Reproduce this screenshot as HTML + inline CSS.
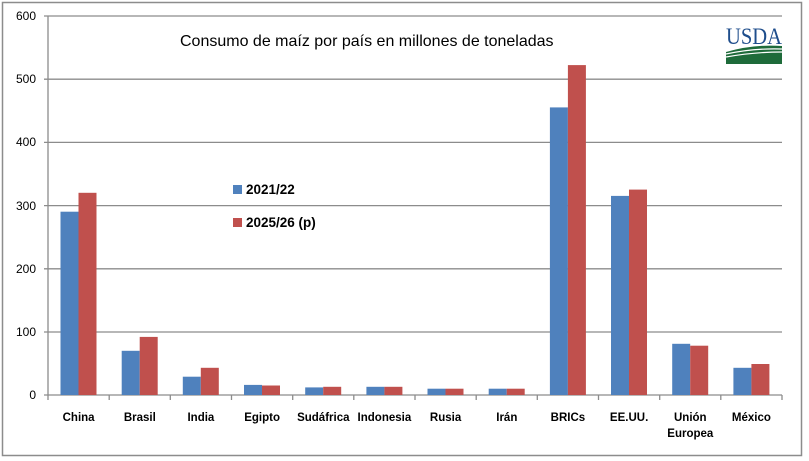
<!DOCTYPE html>
<html><head><meta charset="utf-8"><style>
html,body{margin:0;padding:0;background:#fff;}
svg{display:block;font-family:"Liberation Sans",Arial,sans-serif;}
</style></head><body>
<svg width="809" height="461" xmlns="http://www.w3.org/2000/svg">
<rect x="2.5" y="2.5" width="799" height="453" fill="#fff" stroke="#8c8c8c" stroke-width="1.5"/>
<g stroke="#8c8c8c" stroke-width="1.3">
<line x1="44" y1="16" x2="782" y2="16"/>
<line x1="44" y1="79.2" x2="782" y2="79.2"/>
<line x1="44" y1="142.4" x2="782" y2="142.4"/>
<line x1="44" y1="205.6" x2="782" y2="205.6"/>
<line x1="44" y1="268.8" x2="782" y2="268.8"/>
<line x1="44" y1="332" x2="782" y2="332"/>
<line x1="48" y1="16" x2="48" y2="400"/>
<line x1="44" y1="395" x2="782" y2="395"/>
<line x1="109.2" y1="395" x2="109.2" y2="400"/><line x1="170.3" y1="395" x2="170.3" y2="400"/>
<line x1="231.5" y1="395" x2="231.5" y2="400"/><line x1="292.7" y1="395" x2="292.7" y2="400"/>
<line x1="353.8" y1="395" x2="353.8" y2="400"/><line x1="415" y1="395" x2="415" y2="400"/>
<line x1="476.2" y1="395" x2="476.2" y2="400"/><line x1="537.3" y1="395" x2="537.3" y2="400"/>
<line x1="598.5" y1="395" x2="598.5" y2="400"/><line x1="659.7" y1="395" x2="659.7" y2="400"/>
<line x1="720.8" y1="395" x2="720.8" y2="400"/><line x1="782" y1="395" x2="782" y2="400"/>
</g>
<g font-size="12" fill="#000" text-anchor="end">
<text x="36" y="20">600</text><text x="36" y="83">500</text><text x="36" y="146">400</text>
<text x="36" y="210">300</text><text x="36" y="273">200</text><text x="36" y="336">100</text>
<text x="36" y="399">0</text>
</g>
<g fill="#4f81bd">
<rect x="60.5" y="211.7" width="18" height="183.3"/>
<rect x="121.7" y="350.8" width="18" height="44.2"/>
<rect x="182.8" y="376.7" width="18" height="18.3"/>
<rect x="244" y="384.9" width="18" height="10.1"/>
<rect x="305.2" y="387.4" width="18" height="7.6"/>
<rect x="366.4" y="386.8" width="18" height="8.2"/>
<rect x="427.5" y="388.7" width="18" height="6.3"/>
<rect x="488.7" y="388.7" width="18" height="6.3"/>
<rect x="549.9" y="107.4" width="18" height="287.6"/>
<rect x="611" y="195.9" width="18" height="199.1"/>
<rect x="672.2" y="343.8" width="18" height="51.2"/>
<rect x="733.4" y="367.8" width="18" height="27.2"/>
</g>
<g fill="#c0504d">
<rect x="78.5" y="192.8" width="18" height="202.2"/>
<rect x="139.7" y="336.9" width="18" height="58.1"/>
<rect x="200.8" y="367.8" width="18" height="27.2"/>
<rect x="262" y="385.5" width="18" height="9.5"/>
<rect x="323.2" y="386.8" width="18" height="8.2"/>
<rect x="384.4" y="386.8" width="18" height="8.2"/>
<rect x="445.5" y="388.7" width="18" height="6.3"/>
<rect x="506.7" y="388.7" width="18" height="6.3"/>
<rect x="567.9" y="65.1" width="18" height="329.9"/>
<rect x="629" y="189.6" width="18" height="205.4"/>
<rect x="690.2" y="345.7" width="18" height="49.3"/>
<rect x="751.4" y="364" width="18" height="31"/>
</g>
<g font-size="11.5" font-weight="bold" text-anchor="middle" fill="#000">
<text x="78.6" y="421">China</text><text x="139.8" y="421">Brasil</text><text x="200.9" y="421">India</text>
<text x="262.1" y="421">Egipto</text><text x="323.3" y="421">Sudáfrica</text><text x="384.4" y="421">Indonesia</text>
<text x="445.6" y="421">Rusia</text><text x="506.8" y="421">Irán</text><text x="567.9" y="421">BRICs</text>
<text x="629.1" y="421">EE.UU.</text><text x="690.3" y="421">Unión</text><text x="690.3" y="437">Europea</text>
<text x="751.4" y="421">México</text>
</g>
<text x="180" y="46" font-size="16" fill="#000">Consumo de maíz por país en millones de toneladas</text>
<rect x="233" y="185" width="9" height="9" fill="#4f81bd"/>
<text x="246" y="194" font-size="13.5" font-weight="bold">2021/22</text>
<rect x="233" y="218" width="9" height="9" fill="#c0504d"/>
<text x="246" y="227" font-size="13.5" font-weight="bold">2025/26 (p)</text>
<text x="754" y="44" font-size="23" fill="#1f4e8c" text-anchor="middle" font-family="Liberation Serif,serif" textLength="56" lengthAdjust="spacingAndGlyphs">USDA</text>
<path d="M726 52 Q754 44 782 46 L782 64 L726 64 Z" fill="#1e6b3a"/>
<path d="M726 54 Q754 48 782 49" stroke="#fff" stroke-width="1.2" fill="none"/>
<path d="M726 57 Q754 52 782 52" stroke="#fff" stroke-width="1.2" fill="none"/>
</svg>
</body></html>
